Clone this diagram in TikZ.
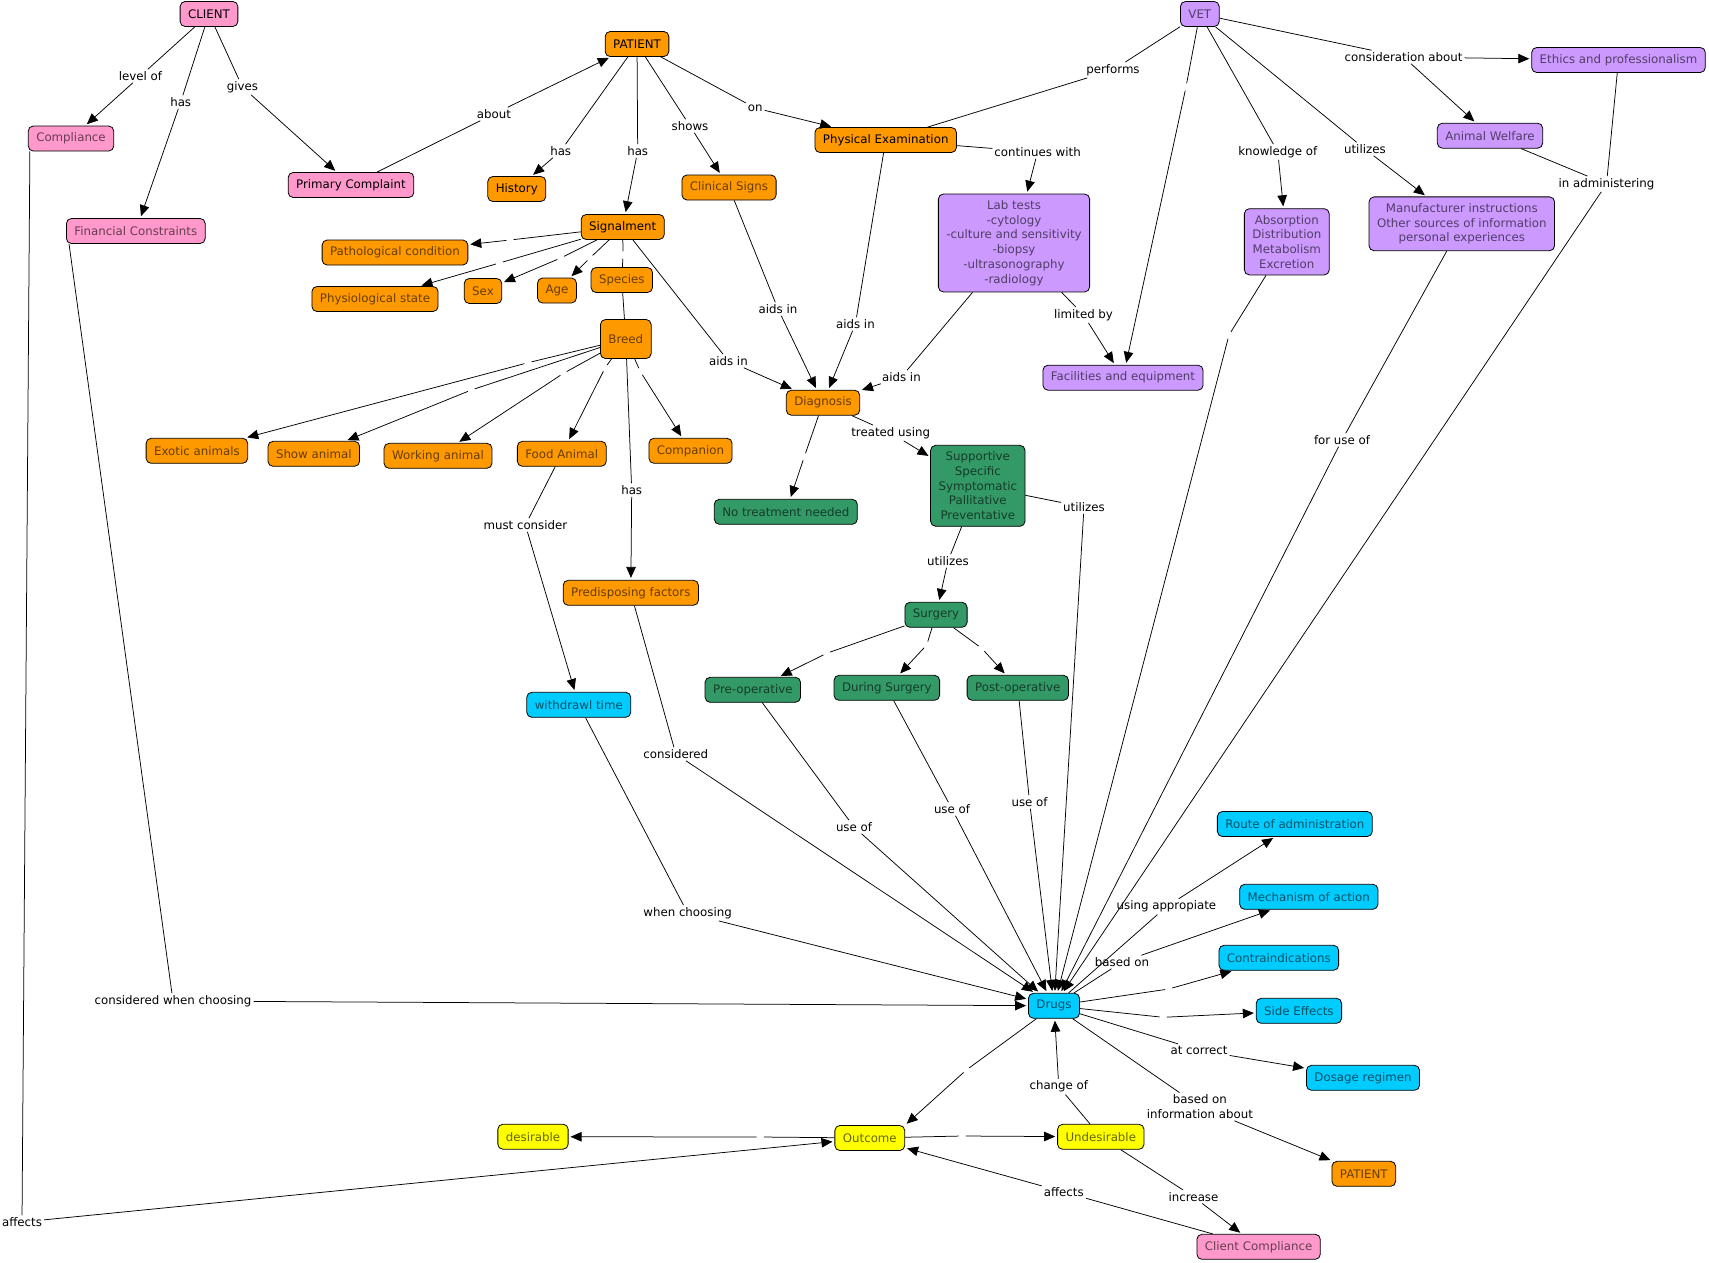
\documentclass[tikz,border=0pt]{standalone}
\usepackage{fontspec}
\setmainfont{DejaVu Sans}
\usetikzlibrary{arrows.meta}
\definecolor{cpink}{HTML}{FF99CC}
\definecolor{corange}{HTML}{FF9900}
\definecolor{cpurple}{HTML}{CC99FF}
\definecolor{cgreen}{HTML}{339966}
\definecolor{cblue}{HTML}{00CCFF}
\definecolor{cyellow}{HTML}{FFFF00}
\begin{document}
\begin{tikzpicture}[x=1pt,y=-1pt,
  font=\fontsize{11.8}{14.7}\selectfont,
  concept/.style={draw=black, line width=0.8pt, rounded corners=5pt, inner xsep=8pt, inner ysep=6.5pt, minimum height=25pt, align=center},
  pk/.style={concept, fill=cpink, text=cpink!40!black},
  pkb/.style={pk, text=black},
  og/.style={concept, fill=corange, text=corange!40!black},
  ogb/.style={og, text=black},
  pu/.style={concept, fill=cpurple, text=cpurple!40!black},
  gr/.style={concept, fill=cgreen, text=cgreen!40!black},
  bl/.style={concept, fill=cblue, text=cblue!40!black},
  ye/.style={concept, fill=cyellow, text=cyellow!40!black},
  lab/.style={inner sep=2pt, align=center, text=black},
  gap/.style={circle, inner sep=0pt, minimum size=7pt},
  link/.style={line width=0.75pt},
  arr/.style={link, shorten >=2pt, -{Triangle[length=11pt,width=9.5pt]}},
]
\useasboundingbox[fill=white] (0,0) rectangle (1709,1262);

% ---------- concepts ----------
\node[pkb] (CLIENT) at (209,14) {CLIENT};
\node[pk] (Compliance) at (71,138.5) {Compliance};
\node[pkb] (Primary) at (351,185) {Primary Complaint};
\node[pk] (Financial) at (135.8,231) {Financial Constraints};
\node[ogb] (PATIENT) at (637,44) {PATIENT};
\node[ogb] (History) at (516.8,189) {History};
\node[ogb] (Signalment) at (622.7,227) {Signalment};
\node[og] (Clinical) at (729,187.5) {Clinical Signs};
\node[ogb] (PE) at (885.7,140) {Physical Examination};
\node[pu] (Lab) at (1014,243) {Lab tests\\-cytology\\-culture and sensitivity\\-biopsy\\-ultrasonography\\-radiology};
\node[pu] (Facilities) at (1123,377.7) {Facilities and equipment};
\node[pu] (VET) at (1199.8,14) {VET};
\node[pu] (Ethics) at (1618.5,60) {Ethics and professionalism};
\node[pu] (Welfare) at (1490,135.7) {Animal Welfare};
\node[pu] (ADME) at (1286.8,241.8) {Absorption\\Distribution\\Metabolism\\Excretion};
\node[pu] (Manuf) at (1461.8,223.8) {Manufacturer instructions\\Other sources of information\\personal experiences};
\node[og] (Path) at (395,252.5) {Pathological condition};
\node[og] (Phys) at (375,299) {Physiological state};
\node[og] (Sex) at (483,291) {Sex};
\node[og] (Age) at (557,290.5) {Age};
\node[og] (Species) at (621.8,280) {Species};
\node[og, minimum height=39pt] (Breed) at (625.8,339) {Breed};
\node[og] (Exotic) at (196.9,450.8) {Exotic animals};
\node[og] (Show) at (313.8,453.8) {Show animal};
\node[og] (Working) at (438,455.8) {Working animal};
\node[og] (Food) at (561.8,453.8) {Food Animal};
\node[og] (Companion) at (690.5,450.8) {Companion};
\node[og] (Predisposing) at (630.8,592.8) {Predisposing factors};
\node[bl] (Withdrawl) at (578.8,704.8) {withdrawl time};
\node[og] (Diagnosis) at (823,402.7) {Diagnosis};
\node[gr] (NoTreat) at (785.8,511.8) {No treatment needed};
\node[gr] (Treatment) at (977.8,485.8) {Supportive\\Specific\\Symptomatic\\Pallitative\\Preventative};
\node[gr] (Surgery) at (936,614.8) {Surgery};
\node[gr] (PreOp) at (752.8,689.8) {Pre-operative};
\node[gr] (During) at (886.8,687.8) {During Surgery};
\node[gr] (PostOp) at (1017.8,687.8) {Post-operative};
\node[bl] (Drugs) at (1054,1005.8) {Drugs};
\node[bl] (Route) at (1294.8,824) {Route of administration};
\node[bl] (Mechanism) at (1308.8,896.8) {Mechanism of action};
\node[bl] (Contra) at (1278.8,957.8) {Contraindications};
\node[bl] (Side) at (1298.9,1010.8) {Side Effects};
\node[bl] (Dosage) at (1363,1077.8) {Dosage regimen};
\node[og] (PatientB) at (1363.8,1173.8) {PATIENT};
\node[pk] (ClientComp) at (1258.6,1246.8) {Client Compliance};
\node[ye] (Undesirable) at (1100.8,1136.8) {Undesirable};
\node[ye] (Outcome) at (869.8,1138) {Outcome};
\node[ye] (Desirable) at (533,1136.7) {desirable};

% ---------- linking phrases ----------
\node[lab] (lLevel) at (140.4,76) {level of};
\node[lab] (lHasFin) at (180.7,102) {has};
\node[lab] (lGives) at (242.4,87) {gives};
\node[lab] (lAbout) at (493.9,114) {about};
\node[lab] (lHasHist) at (560.7,151) {has};
\node[lab] (lHasSig) at (637.7,151) {has};
\node[lab] (lShows) at (690,126) {shows};
\node[lab] (lOn) at (755.2,108) {on};
\node[lab] (lPerforms) at (1113,70) {performs};
\node[lab] (lContinues) at (1037.6,152) {continues with};
\node[lab] (lAidsCS) at (778,309) {aids in};
\node[lab] (lAidsPE) at (855.4,324) {aids in};
\node[lab] (lAidsSig) at (728.4,361) {aids in};
\node[lab] (lAidsLab) at (901.4,377) {aids in};
\node[lab] (lLimited) at (1083.5,315) {limited by};
\node[lab] (lConsid) at (1403.6,57) {consideration about};
\node[lab] (lKnow) at (1277.8,152) {knowledge of};
\node[lab] (lUtilV) at (1364.9,149) {utilizes};
\node[lab] (lAdmin) at (1606.5,184) {in administering};
\node[lab] (lForUse) at (1342,440) {for use of};
\node[lab] (lHasPred) at (631.7,490) {has};
\node[lab] (lMust) at (525.4,525) {must consider};
\node[lab] (lConsidered) at (675.8,754) {considered};
\node[lab] (lWhen) at (687.6,913) {when choosing};
\node[lab] (lCWC) at (173,1001) {considered when choosing};
\node[lab] (lAffects1) at (22,1222) {affects};
\node[lab] (lTreated) at (890.7,433) {treated using};
\node[lab] (lUtilS) at (948,561) {utilizes};
\node[lab] (lUtilD) at (1084,507) {utilizes};
\node[lab] (lUsePre) at (854,827) {use of};
\node[lab] (lUseDur) at (952,809) {use of};
\node[lab] (lUsePost) at (1029.6,802) {use of};
\node[lab] (lUsing) at (1166.4,906.7) {using appropiate};
\node[lab] (lBased) at (1122,962) {based on};
\node[lab] (lAtCorrect) at (1199,1050.3) {at correct};
\node[lab] (lBasedInfo) at (1199.9,1106.7) {based on\\information about};
\node[lab] (lChange) at (1058.8,1086.7) {change of};
\node[lab] (lIncrease) at (1193.5,1196.7) {increase};
\node[lab] (lAffects2) at (1063.8,1192) {affects};

% ---------- empty linking phrases ----------
\node[gap] (g1) at (510,240) {};
\node[gap] (g2) at (499.4,263) {};
\node[gap] (g3) at (560.7,258) {};
\node[gap] (g4) at (590,258) {};
\node[gap] (g5) at (623,255) {};
\node[gap] (g6) at (528,362.7) {};
\node[gap] (g7) at (471.3,390) {};
\node[gap] (g8) at (563.5,373.3) {};
\node[gap] (g9) at (605,368) {};
\node[gap] (g10) at (640.4,371.7) {};
\node[gap] (g11) at (804.3,456.7) {};
\node[gap] (g12) at (826.7,653.3) {};
\node[gap] (g13) at (926.7,645) {};
\node[gap] (g14) at (981.7,648.3) {};
\node[gap] (g15) at (1186,87) {};
\node[gap] (g16) at (1229,335) {};
\node[gap] (g17) at (1168.7,989) {};
\node[gap] (g18) at (1163.2,1017.3) {};
\node[gap] (g19) at (966.3,1070) {};
\node[gap] (g20) at (760.2,1137) {};
\node[gap] (g21) at (962.2,1136) {};

% ---------- connectors ----------
\draw[link] (CLIENT) -- (lLevel); \draw[arr] (lLevel) -- (Compliance);
\draw[link] (CLIENT) -- (lHasFin); \draw[arr] (lHasFin) -- (Financial);
\draw[link] (CLIENT) -- (lGives); \draw[arr] (lGives) -- (Primary);
\draw[link] (Primary) -- (lAbout); \draw[arr] (lAbout) -- (PATIENT);
\draw[link] (PATIENT) -- (lHasHist); \draw[arr] (lHasHist) -- (History);
\draw[link] (PATIENT) -- (lHasSig); \draw[arr] (lHasSig) -- (Signalment);
\draw[link] (PATIENT) -- (lShows); \draw[arr] (lShows) -- (Clinical);
\draw[link] (PATIENT) -- (lOn); \draw[arr] (lOn) -- (PE);
\draw[link] (VET) -- (lPerforms); \draw[link] (lPerforms) -- (PE);
\draw[link] (PE) -- (lContinues); \draw[arr] (lContinues) -- (Lab);
\draw[link] (PE) -- (lAidsPE); \draw[arr] (lAidsPE) -- (Diagnosis);
\draw[link] (Clinical) -- (lAidsCS); \draw[arr] (lAidsCS) -- (Diagnosis);
\draw[link] (Signalment) -- (lAidsSig); \draw[arr] (lAidsSig) -- (Diagnosis);
\draw[link] (Lab) -- (lAidsLab); \draw[arr] (lAidsLab) -- (Diagnosis);
\draw[link] (Lab) -- (lLimited); \draw[arr] (lLimited) -- (Facilities);
\draw[link] (VET) -- (g15); \draw[arr] (g15) -- (Facilities);
\draw[link] (VET) -- (lKnow); \draw[arr] (lKnow) -- (ADME);
\draw[link] (VET) -- (lUtilV); \draw[arr] (lUtilV) -- (Manuf);
\draw[link] (VET) -- (lConsid); \draw[arr] (lConsid) -- (Ethics); \draw[arr] (lConsid) -- (Welfare);
\draw[link] (Welfare) -- (lAdmin); \draw[link] (Ethics) -- (lAdmin); \draw[arr] (lAdmin) -- (Drugs);
\draw[link] (ADME) -- (g16); \draw[arr] (g16) -- (Drugs);
\draw[link] (Manuf) -- (lForUse); \draw[arr] (lForUse) -- (Drugs);
\draw[link] (Signalment) -- (g1); \draw[arr] (g1) -- (Path);
\draw[link] (Signalment) -- (g2); \draw[arr] (g2) -- (Phys);
\draw[link] (Signalment) -- (g3); \draw[arr] (g3) -- (Sex);
\draw[link] (Signalment) -- (g4); \draw[arr] (g4) -- (Age);
\draw[link] (Signalment) -- (g5); \draw[link] (g5) -- (Species);
\draw[link] (Species) -- (Breed);
\draw[link] (Breed) -- (g6); \draw[arr] (g6) -- (Exotic);
\draw[link] (Breed) -- (g7); \draw[arr] (g7) -- (Show);
\draw[link] (Breed) -- (g8); \draw[arr] (g8) -- (Working);
\draw[link] (Breed) -- (g9); \draw[arr] (g9) -- (Food);
\draw[link] (Breed) -- (g10); \draw[arr] (g10) -- (Companion);
\draw[link] (Breed) -- (lHasPred); \draw[arr] (lHasPred) -- (Predisposing);
\draw[link] (Food) -- (lMust); \draw[arr] (lMust) -- (Withdrawl);
\draw[link] (Withdrawl) -- (lWhen); \draw[arr] (lWhen) -- (Drugs);
\draw[link] (Predisposing) -- (lConsidered); \draw[arr] (lConsidered) -- (Drugs);
\draw[link] ([xshift=3pt]Financial.south west) -- (lCWC); \draw[arr] (lCWC) -- (Drugs);
\draw[link] ([xshift=2pt]Compliance.south west) -- (lAffects1); \draw[arr] (lAffects1) -- (Outcome);
\draw[link] (Diagnosis) -- (g11); \draw[arr] (g11) -- (NoTreat);
\draw[link] (Diagnosis) -- (lTreated); \draw[arr] (lTreated) -- (Treatment);
\draw[link] (Treatment) -- (lUtilS); \draw[arr] (lUtilS) -- (Surgery);
\draw[link] (Treatment) -- (lUtilD); \draw[arr] (lUtilD) -- (Drugs);
\draw[link] (Surgery) -- (g12); \draw[arr] (g12) -- (PreOp);
\draw[link] (Surgery) -- (g13); \draw[arr] (g13) -- (During);
\draw[link] (Surgery) -- (g14); \draw[arr] (g14) -- (PostOp);
\draw[link] (PreOp) -- (lUsePre); \draw[arr] (lUsePre) -- (Drugs);
\draw[link] (During) -- (lUseDur); \draw[arr] (lUseDur) -- (Drugs);
\draw[link] (PostOp) -- (lUsePost); \draw[arr] (lUsePost) -- (Drugs);
\draw[link] (Drugs) -- (lUsing); \draw[arr] (lUsing) -- (Route);
\draw[link] (Drugs) -- (lBased); \draw[arr] (lBased) -- (Mechanism);
\draw[link] (Drugs) -- (g17); \draw[arr] (g17) -- (Contra);
\draw[link] (Drugs) -- (g18); \draw[arr] (g18) -- (Side);
\draw[link] (Drugs) -- (lAtCorrect); \draw[arr] (lAtCorrect) -- (Dosage);
\draw[link] (Drugs) -- (lBasedInfo); \draw[arr] (lBasedInfo) -- (PatientB);
\draw[link] (Drugs) -- (g19); \draw[arr] (g19) -- (Outcome.north east);
\draw[link] (Outcome) -- (g20); \draw[arr] (g20) -- (Desirable);
\draw[link] (Outcome) -- (g21); \draw[arr] (g21) -- (Undesirable);
\draw[link] (Undesirable) -- (lChange); \draw[arr] (lChange) -- (Drugs);
\draw[link] (Undesirable) -- (lIncrease); \draw[arr] (lIncrease) -- (ClientComp);
\draw[link] (ClientComp) -- (lAffects2); \draw[arr] (lAffects2) -- (Outcome);
\end{tikzpicture}
\end{document}
